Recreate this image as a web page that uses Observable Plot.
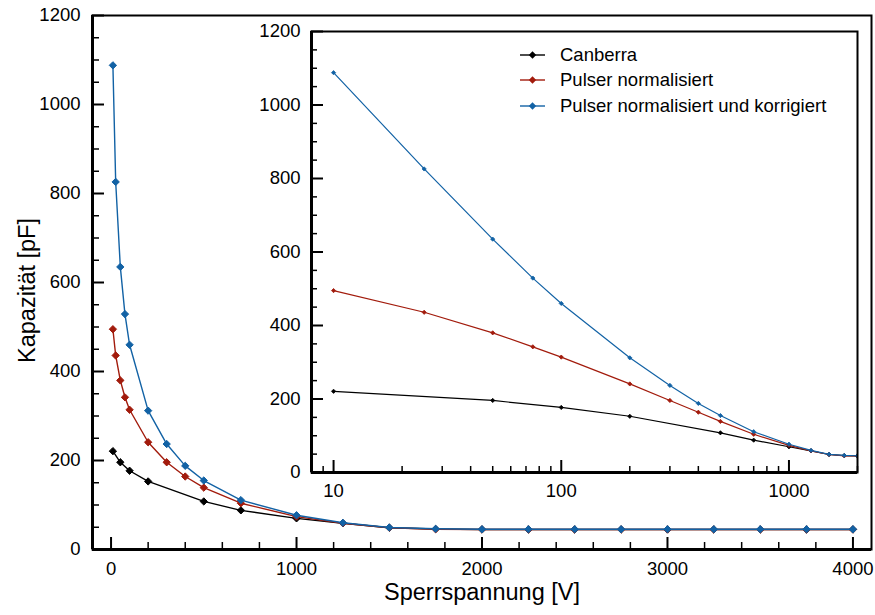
<!DOCTYPE html>
<html>
<head>
<meta charset="utf-8">
<script src="https://cdn.jsdelivr.net/npm/d3@7"></script>
<script src="https://cdn.jsdelivr.net/npm/@observablehq/plot@0.6"></script>
<style>
  body { margin: 0; background: #fff; }
  #wrap { position: relative; width: 875px; height: 615px; font-family: "Liberation Sans", Arial, Helvetica, sans-serif; }
  #wrap > svg, #wrap > figure { position: absolute; margin: 0; }
  .legend { position: absolute; left: 518px; top: 42px; font-size: 18.5px; color: #000; }
  .legend .row { display: flex; align-items: center; height: 25.5px; white-space: nowrap; }
  .legend svg { margin-right: 12px; }
</style>
</head>
<body>
<div id="wrap"></div>
<script>
// ---------------- data ----------------
const seriesNames = ["Canberra", "Pulser normalisiert", "Pulser normalisiert und korrigiert"];
const seriesColors = ["#000000", "#a21b0c", "#1262a5"];

const canberraV = [10, 50, 100, 200, 500, 700, 1000, 1250, 1500, 1750, 2000, 2250, 2500, 2750, 3000, 3250, 3500, 3750, 4000];
const canberraC = [221, 196, 177, 153, 108, 88, 70, 59, 49, 46, 45, 45, 45, 45, 45, 45, 45, 45, 45];

const pulserV = [10, 25, 50, 75, 100, 200, 300, 400, 500, 700, 1000, 1250, 1500, 1750, 2000, 2250, 2500, 2750, 3000, 3250, 3500, 3750, 4000];
const pulserC = [495, 436, 380, 342, 314, 241, 196, 164, 139, 104, 74, 59, 49, 45.5, 45, 45, 45, 45, 45, 45, 45, 45, 45];

const korrV = [10, 25, 50, 75, 100, 200, 300, 400, 500, 700, 1000, 1250, 1500, 1750, 2000, 2250, 2500, 2750, 3000, 3250, 3500, 3750, 4000];
const korrC = [1088, 826, 635, 529, 460, 312, 237, 188, 155, 111, 77, 60, 49.5, 46.5, 45.5, 45.5, 45.5, 45.5, 45.5, 45.5, 45.5, 45.5, 45.5];

// tick values
const mainXTicks = [0, 1000, 2000, 3000, 4000];
const mainXMinor = [200, 400, 600, 800, 1200, 1400, 1600, 1800, 2200, 2400, 2600, 2800, 3200, 3400, 3600, 3800];
const mainYTicks = [0, 200, 400, 600, 800, 1000, 1200];
const mainYMinor = [50, 100, 150, 250, 300, 350, 450, 500, 550, 650, 700, 750, 850, 900, 950, 1050, 1100, 1150];
const insetXTicks = [10, 100, 1000];
const insetXMinor = [9, 20, 30, 40, 50, 60, 70, 80, 90, 200, 300, 400, 500, 600, 700, 800, 900, 2000];
const insetYTicks = mainYTicks;
const insetYMinor = mainYMinor;

// ---------------- helpers ----------------
const rows = (V, C) => V.map((v, i) => ({v, c: C[i]}));
const series = [rows(canberraV, canberraC), rows(pulserV, pulserC), rows(korrV, korrC)];
const FONT = "'Liberation Sans', Arial, Helvetica, sans-serif";
const wrap = document.getElementById("wrap");

function frameMarks(innerW, innerH, x0, y0, majLen, minLen, xT, xM, yT, yM) {
  return [
    Plot.tickY(yT, {y: d => d, insetRight: innerW - majLen, stroke: "#000", strokeWidth: 2}),
    Plot.tickY(yM, {y: d => d, insetRight: innerW - minLen, stroke: "#000", strokeWidth: 1.5}),
    Plot.tickX(xT, {x: d => d, insetTop: innerH - majLen, stroke: "#000", strokeWidth: 2}),
    Plot.tickX(xM, {x: d => d, insetTop: innerH - minLen, stroke: "#000", strokeWidth: 1.5}),
    Plot.frame({stroke: "#000", strokeWidth: 2}),
    Plot.ruleX([x0], {stroke: "#000", strokeWidth: 3}),
    Plot.ruleY([y0], {stroke: "#000", strokeWidth: 3})
  ];
}

// ---------------- main plot ----------------
const W = 875, H = 615, mL = 92, mR = 4, mT = 15, mB = 66;
const innerW = W - mL - mR, innerH = H - mT - mB;

const mainMarks = [];
series.forEach((d, i) => {
  mainMarks.push(Plot.line(d, {x: "v", y: "c", stroke: seriesColors[i], strokeWidth: 1.4}));
  mainMarks.push(Plot.dot(d, {x: "v", y: "c", symbol: "diamond2", r: 3.3, fill: seriesColors[i], stroke: seriesColors[i], strokeWidth: 1}));
});

const main = Plot.plot({
  width: W, height: H,
  marginLeft: mL, marginRight: mR, marginTop: mT, marginBottom: mB,
  style: {fontFamily: FONT, fontSize: "18.5px", background: "transparent", color: "#000"},
  x: {domain: [-100, 4100]},
  y: {domain: [0, 1200]},
  marks: [
    ...frameMarks(innerW, innerH, -100, 0, 12, 7, mainXTicks, mainXMinor, mainYTicks, mainYMinor),
    Plot.axisY({ticks: mainYTicks, tickSize: 0, tickPadding: 12, label: null, tickFormat: d => String(d)}),
    Plot.axisX({ticks: mainXTicks, tickSize: 0, tickPadding: 12, label: null, tickFormat: d => String(d)}),
    Plot.text(["Kapazität [pF]"], {frameAnchor: "left", textAnchor: "middle", rotate: -90, dx: -65, dy: 8, fontSize: 23.5}),
    Plot.text(["Sperrspannung [V]"], {frameAnchor: "bottom", textAnchor: "middle", dy: 50, fontSize: 23.5}),
    ...mainMarks
  ]
});
main.style.left = "0px"; main.style.top = "0px";
wrap.appendChild(main);

// ---------------- inset plot ----------------
const IW = 625, IH = 515, iL = 61, iR = 18, iT = 31, iB = 43;
const iInnerW = IW - iL - iR, iInnerH = IH - iT - iB;

const insetMarks = [];
series.forEach((d, i) => {
  insetMarks.push(Plot.line(d, {x: "v", y: "c", stroke: seriesColors[i], strokeWidth: 1.2, clip: true}));
  insetMarks.push(Plot.dot(d, {x: "v", y: "c", symbol: "diamond2", r: 1.9, fill: seriesColors[i], stroke: seriesColors[i], strokeWidth: 0.8, clip: true}));
});

const inset = Plot.plot({
  width: IW, height: IH,
  marginLeft: iL, marginRight: iR, marginTop: iT, marginBottom: iB,
  style: {fontFamily: FONT, fontSize: "18.5px", background: "transparent", color: "#000"},
  x: {type: "log", domain: [8, 2000]},
  y: {domain: [0, 1200]},
  marks: [
    Plot.frame({fill: "#fff"}),
    ...insetMarks,
    ...frameMarks(iInnerW, iInnerH, 8, 0, 12, 6, insetXTicks, insetXMinor, insetYTicks, insetYMinor),
    Plot.axisY({ticks: insetYTicks, tickSize: 0, tickPadding: 11, label: null, tickFormat: d => String(d)}),
    Plot.axisX({ticks: insetXTicks, tickSize: 0, tickPadding: 11, label: null, tickFormat: d => String(d)})
  ]
});
inset.style.left = "250px"; inset.style.top = "0px";
wrap.appendChild(inset);

// ---------------- legend ----------------
const legend = document.createElement("div");
legend.className = "legend";
seriesNames.forEach((name, i) => {
  const row = document.createElement("div");
  row.className = "row";
  const c = seriesColors[i];
  row.innerHTML = `<svg width="30" height="10" viewBox="0 0 30 10"><line x1="2" y1="5" x2="27" y2="5" stroke="${c}" stroke-width="1.4"/><path d="M14.5,1.3 L18.2,5 L14.5,8.7 L10.8,5 Z" fill="${c}"/></svg><span>${name}</span>`;
  legend.appendChild(row);
});
wrap.appendChild(legend);
</script>
</body>
</html>
